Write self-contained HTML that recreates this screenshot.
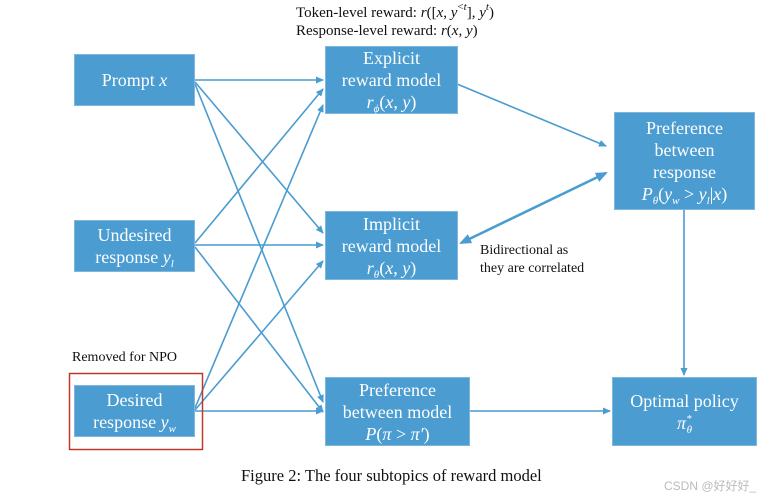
<!DOCTYPE html>
<html><head><meta charset="utf-8"><style>
body{margin:0;background:#fff;width:776px;height:498px;overflow:hidden;font-family:"Liberation Serif",serif}
.b{position:absolute;background:#4a9cd1;color:#fff;display:flex;flex-direction:column;align-items:center;justify-content:center;text-align:center;font-size:18px;line-height:22px;border:1px solid #7fb6dc;box-sizing:border-box}
.b span{white-space:nowrap;display:block;height:22px}
.t{position:absolute;color:#111;font-size:15px;line-height:18px;white-space:nowrap}
i{font-style:italic}
sub,sup{font-size:11px;line-height:0;position:relative;vertical-align:baseline}
sub{top:4px}
sup{top:-7px}
</style></head><body>
<svg width="776" height="498" style="position:absolute;left:0;top:0">
<defs><marker id="a" markerWidth="8" markerHeight="8" refX="7" refY="4" orient="auto" markerUnits="userSpaceOnUse"><path d="M0,0.5 L8,4 L0,7.5z" fill="#4a9cd1"/></marker>
<marker id="a2" markerWidth="12" markerHeight="10" refX="10" refY="5" orient="auto-start-reverse" markerUnits="userSpaceOnUse"><path d="M0,0 L12,5 L0,10z" fill="#4a9cd1"/></marker></defs>
<g stroke="#4a9cd1" stroke-width="1.6" fill="none" marker-end="url(#a)">
<line x1="195" y1="80" x2="323" y2="80"/>
<line x1="195" y1="82" x2="323" y2="233"/>
<line x1="195" y1="84" x2="323" y2="402"/>
<line x1="195" y1="243" x2="323" y2="89"/>
<line x1="195" y1="245" x2="323" y2="245"/>
<line x1="195" y1="247" x2="323" y2="412"/>
<line x1="195" y1="408" x2="323" y2="105"/>
<line x1="195" y1="410" x2="323" y2="261"/>
<line x1="195" y1="411" x2="323" y2="411"/>
<line x1="457" y1="84" x2="606" y2="146"/>
<line x1="684" y1="209" x2="684" y2="375"/>
<line x1="469" y1="411" x2="610" y2="411"/>
</g>
<line x1="461" y1="243" x2="606" y2="173" stroke="#4a9cd1" stroke-width="2.6" marker-start="url(#a2)" marker-end="url(#a2)"/>
<rect x="69.5" y="373.5" width="133" height="76" fill="none" stroke="#c0392b" stroke-width="1.5"/>
</svg>
<div class="b" style="left:74px;top:54px;width:121px;height:52px"><span>Prompt <i>x</i></span></div>
<div class="b" style="left:74px;top:220px;width:121px;height:52px"><span>Undesired</span><span>response <i>y<sub>l</sub></i></span></div>
<div class="b" style="left:74px;top:385px;width:121px;height:52px"><span>Desired</span><span>response <i>y<sub>w</sub></i></span></div>
<div class="b" style="left:325px;top:46px;width:133px;height:68px"><span>Explicit</span><span>reward model</span><span><i>r<sub>ϕ</sub></i>(<i>x</i>, <i>y</i>)</span></div>
<div class="b" style="left:325px;top:211px;width:133px;height:69px"><span>Implicit</span><span>reward model</span><span><i>r<sub>θ</sub></i>(<i>x</i>, <i>y</i>)</span></div>
<div class="b" style="left:325px;top:377px;width:145px;height:69px"><span>Preference</span><span>between model</span><span><i>P</i>(<i>π</i> &gt; <i>π′</i>)</span></div>
<div class="b" style="left:614px;top:112px;width:141px;height:98px"><span>Preference</span><span>between</span><span>response</span><span><i>P<sub>θ</sub></i>(<i>y<sub>w</sub></i> &gt; <i>y<sub>l</sub></i>|<i>x</i>)</span></div>
<div class="b" style="left:612px;top:377px;width:145px;height:69px"><span>Optimal policy</span><span><i>π<sup>*</sup><sub style="margin-left:-5px">θ</sub></i></span></div>
<div class="t" style="left:296px;top:4px">Token-level reward: <i>r</i>([<i>x</i>, <i>y</i><sup>&lt;<i>t</i></sup>], <i>y<sup>t</sup></i>)</div>
<div class="t" style="left:296px;top:22px">Response-level reward: <i>r</i>(<i>x</i>, <i>y</i>)</div>
<div class="t" style="left:480px;top:242px;font-size:14px">Bidirectional as<br>they are correlated</div>
<div class="t" style="left:72px;top:349px;font-size:14px">Removed for NPO</div>
<div class="t" style="left:241px;top:467px;font-size:16.5px">Figure 2: The four subtopics of reward model</div>
<div class="t" style="left:664px;top:477px;font-size:12px;color:#bbb;font-family:'Liberation Sans','Noto Sans CJK SC',sans-serif">CSDN @好好好_</div>
</body></html>
